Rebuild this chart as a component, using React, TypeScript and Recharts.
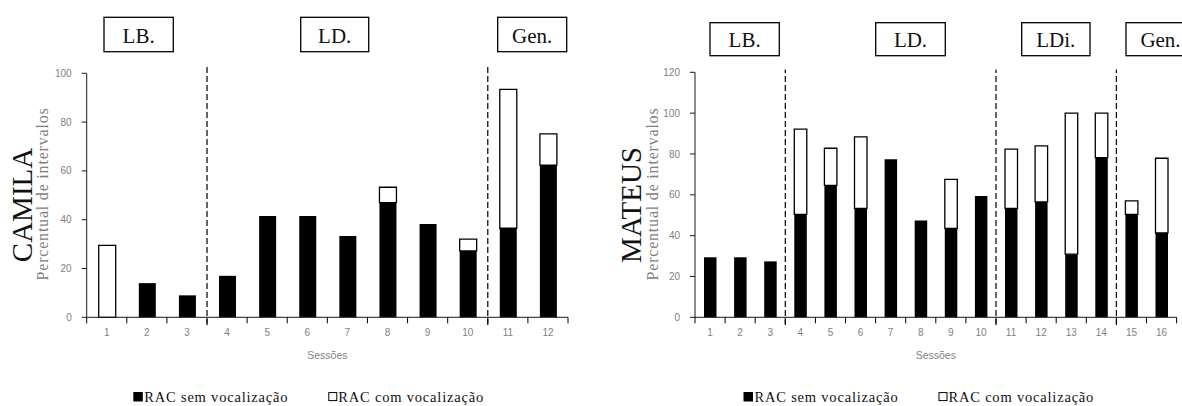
import React from 'react';
import { BarChart, Bar, XAxis, YAxis, ReferenceLine } from 'recharts';

// CAMILA
const camilaSessions = [1, 2, 3, 4, 5, 6, 7, 8, 9, 10, 11, 12];
const camilaSem = [0, 14, 9, 17, 41.5, 41.5, 33.3, 47, 38.2, 27.2, 36.5, 62.4];
const camilaCom = [29.5, 0, 0, 0, 0, 0, 0, 6.3, 0, 4.8, 56.9, 12.8];
const camilaBreaks = [3.5, 10.5];
const camilaTicks = [0, 20, 40, 60, 80, 100];

// MATEUS
const mateusSessions = [1, 2, 3, 4, 5, 6, 7, 8, 9, 10, 11, 12, 13, 14, 15, 16];
const mateusSem = [29.4, 29.4, 27.4, 50.4, 64.6, 53.4, 77.4, 47.4, 43.6, 59.4, 53.4, 56.5, 30.9, 78.2, 50.4, 41.4];
const mateusCom = [0, 0, 0, 41.8, 18.2, 35, 0, 0, 24, 0, 29, 27.5, 69.1, 21.8, 6.6, 36.5];
const mateusBreaks = [3.5, 10.5, 14.5];
const mateusTicks = [0, 20, 40, 60, 80, 100, 120];

const seriesNames = ['RAC sem vocalização', 'RAC com vocalização'];

const SERIF = '"Liberation Serif", "DejaVu Serif", serif';
const SANS = '"Liberation Sans", Arial, sans-serif';
const GRAY = '#7f7f7f';

function SessionTick(props: any) {
  const { x, y, payload } = props;
  const v = payload.value;
  if (!Number.isInteger(v)) {
    return <line x1={x} x2={x} y1={y} y2={y + 6} stroke="#000" strokeWidth={1} />;
  }
  return (
    <text x={x} y={y + 19} textAnchor="middle" fill={GRAY} style={{ fontSize: 10, fontFamily: SANS }}>
      {v}
    </text>
  );
}

interface SessionChartProps {
  sessions: number[];
  sem: number[];
  com: number[];
  breaks: number[];
  yTicks: number[];
  width: number;
  yAxisWidth: number;
  top: number;
  right: number;
  barSize: number;
  lineTop: number;
  lineBottom: number;
}

function SessionChart(p: SessionChartProps) {
  const data = p.sessions.map((s, i) => ({ session: s, sem: p.sem[i], com: p.com[i] }));
  const first = p.sessions[0];
  const last = p.sessions[p.sessions.length - 1];
  const xTicks = p.sessions.flatMap((s) => [s - 0.5, s]).concat([last + 0.5]);
  const yMax = p.yTicks[p.yTicks.length - 1];

  return (
    <BarChart
      width={p.width}
      height={406}
      data={data}
      margin={{ top: p.top, right: p.right, bottom: 58.7, left: 0 }}
    >
      <XAxis
        dataKey="session"
        type="number"
        domain={[first - 0.5, last + 0.5]}
        ticks={xTicks}
        interval={0}
        tick={<SessionTick />}
        tickLine={false}
        tickSize={0}
        tickMargin={0}
        height={30}
        axisLine={{ stroke: '#1a1a1a', strokeWidth: 1 }}
      />
      <YAxis
        type="number"
        domain={[0, yMax]}
        ticks={p.yTicks}
        width={p.yAxisWidth}
        tickSize={5}
        tickMargin={10}
        tick={{ fill: GRAY, fontSize: 10, fontFamily: SANS }}
        tickLine={{ stroke: '#1a1a1a' }}
        axisLine={{ stroke: '#1a1a1a', strokeWidth: 1 }}
      />
      <Bar dataKey="sem" name={seriesNames[0]} stackId="a" fill="#000" barSize={p.barSize} isAnimationActive={false} />
      <Bar
        dataKey="com"
        name={seriesNames[1]}
        stackId="a"
        fill="#fff"
        stroke="#000"
        strokeWidth={1.3}
        barSize={p.barSize}
        isAnimationActive={false}
      />
      {p.breaks.map((b) => (
        <ReferenceLine
          key={b}
          segment={[
            { x: b, y: p.lineBottom },
            { x: b, y: p.lineTop },
          ]}
          ifOverflow="visible"
          stroke="#000"
          strokeWidth={1.2}
          strokeDasharray="6 3"
        />
      ))}
    </BarChart>
  );
}

const serifStyle = (size: number, extra: React.CSSProperties = {}): React.CSSProperties => ({
  fontFamily: SERIF,
  fontSize: size,
  ...extra,
});

function PhaseBox({ x, y, w, h, label }: { x: number; y: number; w: number; h: number; label: string }) {
  return (
    <g>
      <rect x={x} y={y} width={w} height={h} fill="#fff" stroke="#000" strokeWidth={1.3} />
      <text
        x={x + w / 2}
        y={y + h / 2 + 1}
        textAnchor="middle"
        dominantBaseline="central"
        fill="#111"
        style={serifStyle(21)}
      >
        {label}
      </text>
    </g>
  );
}

function LegendRow({ x }: { x: number }) {
  const st = serifStyle(14.5, { letterSpacing: 0.8 });
  return (
    <g>
      <rect x={x} y={392} width={9.5} height={9.5} fill="#000" />
      <text x={x + 11} y={397} dominantBaseline="central" fill="#111" style={st}>
        {seriesNames[0]}
      </text>
      <rect x={x + 195.5} y={392.6} width={8} height={8} fill="#fff" stroke="#000" strokeWidth={1} />
      <text x={x + 205} y={397} dominantBaseline="central" fill="#111" style={st}>
        {seriesNames[1]}
      </text>
    </g>
  );
}

function AxisTitles({ nameX, titleX, name }: { nameX: number; titleX: number; name: string }) {
  return (
    <g>
      <text
        x={nameX}
        y={205}
        transform={`rotate(-90 ${nameX} 205)`}
        textAnchor="middle"
        dominantBaseline="central"
        fill="#111"
        style={serifStyle(29)}
      >
        {name}
      </text>
      <text
        x={titleX}
        y={194}
        transform={`rotate(-90 ${titleX} 194)`}
        textAnchor="middle"
        dominantBaseline="central"
        fill={GRAY}
        style={serifStyle(16, { letterSpacing: 0.8 })}
      >
        Percentual de intervalos
      </text>
    </g>
  );
}

export default function App() {
  return (
    <div
      style={{
        position: 'absolute',
        left: 0,
        top: 0,
        width: 1182,
        height: 406,
        background: '#fff',
        overflow: 'hidden',
      }}
    >
      <div style={{ position: 'absolute', left: 0, top: 0 }}>
        <SessionChart
          sessions={camilaSessions}
          sem={camilaSem}
          com={camilaCom}
          breaks={camilaBreaks}
          yTicks={camilaTicks}
          width={590}
          yAxisWidth={86.7}
          top={73.3}
          right={22}
          barSize={17}
          lineTop={103.4}
          lineBottom={-3.2}
        />
      </div>
      <div style={{ position: 'absolute', left: 590, top: 0 }}>
        <SessionChart
          sessions={mateusSessions}
          sem={mateusSem}
          com={mateusCom}
          breaks={mateusBreaks}
          yTicks={mateusTicks}
          width={592}
          yAxisWidth={105}
          top={72.3}
          right={5.4}
          barSize={12.5}
          lineTop={121.4}
          lineBottom={-3.8}
        />
      </div>
      <svg
        width={1182}
        height={406}
        style={{ position: 'absolute', left: 0, top: 0, pointerEvents: 'none' }}
      >
        <AxisTitles nameX={21.7} titleX={42} name="CAMILA" />
        <AxisTitles nameX={630.5} titleX={652} name="MATEUS" />

        <PhaseBox x={104} y={17.3} w={69.3} h={34.4} label="LB." />
        <PhaseBox x={300.7} y={17.3} w={68} h={34.4} label="LD." />
        <PhaseBox x={497.7} y={17.3} w={69} h={34.4} label="Gen." />

        <PhaseBox x={710} y={22.7} w={69.3} h={33} label="LB." />
        <PhaseBox x={875.7} y={22.7} w={69.6} h={33} label="LD." />
        <PhaseBox x={1021.7} y={22.7} w={68.3} h={33} label="LDi." />
        <PhaseBox x={1126} y={22.7} w={69} h={33} label="Gen." />

        <text x={327.4} y={355} textAnchor="middle" dominantBaseline="central" fill={GRAY} style={{ fontSize: 10.5, fontFamily: SANS }}>
          Sessões
        </text>
        <text x={935.8} y={355} textAnchor="middle" dominantBaseline="central" fill={GRAY} style={{ fontSize: 10.5, fontFamily: SANS }}>
          Sessões
        </text>

        <LegendRow x={133.3} />
        <LegendRow x={743.5} />
      </svg>
    </div>
  );
}
